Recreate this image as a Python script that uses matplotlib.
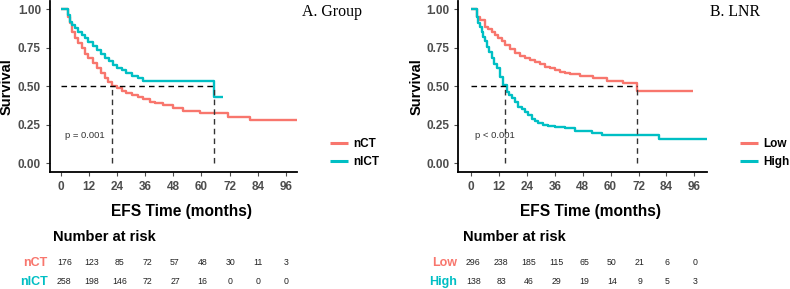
import matplotlib
matplotlib.use("Agg")
import matplotlib.pyplot as plt

plt.rcParams['font.family'] = ['Liberation Sans', 'DejaVu Sans']

RED = '#F8766D'
CYAN = '#00BFC4'

# ---- data ----
# A. Group
nct_t = [0, 3.1, 4.0, 4.7, 6.1, 7.5, 9.0, 10.4, 11.8, 13.6, 15.4, 17.2, 18.9, 20.3, 21.7,
         24, 26, 28, 30.3, 32.8, 35.2, 38.1, 40.2, 43.8, 48, 52.3, 59.4, 71.5, 80.8, 100.7]
nct_s = [1.0, 0.95, 0.907, 0.853, 0.81, 0.778, 0.745, 0.71, 0.68, 0.648, 0.616, 0.585, 0.551, 0.525, 0.501,
         0.485, 0.47, 0.455, 0.443, 0.43, 0.415, 0.40, 0.393, 0.378, 0.356, 0.341, 0.328, 0.302, 0.281, 0.281]
nict_t = [0, 3.0, 4.0, 5.0, 6.1, 7.5, 9.0, 10.4, 11.8, 13.6, 15.4, 17.2, 18.9, 20.6, 22.4,
          24.2, 26, 28, 30.3, 32.8, 35.2, 65.5, 69.1]
nict_s = [1.0, 0.96, 0.918, 0.895, 0.875, 0.853, 0.831, 0.81, 0.788, 0.76, 0.734, 0.707, 0.68, 0.66, 0.637,
          0.62, 0.605, 0.585, 0.566, 0.553, 0.535, 0.428, 0.428]
medians_a = [21.7, 65.5]

# B. LNR
low_t = [0, 2.4, 3.9, 6.0, 7.5, 8.9, 10.3, 11.7, 13.2, 14.6, 16.7, 18.9, 21, 23.2, 25.3, 27.5,
         29.6, 31.8, 34, 36.1, 38.2, 40.4, 42.6, 46.9, 52.6, 58.3, 65.5, 71.2, 95.6]
low_s = [1.0, 0.95, 0.929, 0.885, 0.87, 0.853, 0.83, 0.81, 0.79, 0.767, 0.74, 0.713, 0.695, 0.68, 0.67, 0.658,
         0.642, 0.626, 0.615, 0.605, 0.595, 0.587, 0.579, 0.566, 0.551, 0.535, 0.518, 0.469, 0.469]
high_t = [0, 2.4, 3.2, 3.9, 4.6, 5.3, 6.0, 6.7, 7.8, 8.9, 10, 11, 12.5, 13.9, 15.3, 16.4, 17.5,
          18.9, 20.3, 21.8, 23.2, 24.6, 26.1, 27.5, 29, 31, 33.2, 36.1, 40.4, 44.7, 51.9, 56.2, 81, 101.3]
high_s = [1.0, 0.95, 0.91, 0.885, 0.85, 0.82, 0.79, 0.756, 0.72, 0.68, 0.645, 0.616, 0.56, 0.507, 0.464, 0.44, 0.421,
          0.395, 0.367, 0.35, 0.334, 0.31, 0.29, 0.275, 0.259, 0.25, 0.242, 0.235, 0.227, 0.211, 0.198, 0.183, 0.157, 0.157]
medians_b = [14.6, 71.2]

risk_times = [0, 12, 24, 36, 48, 60, 72, 84, 96]
risk_nct = [176, 123, 85, 72, 57, 48, 30, 11, 3]
risk_nict = [258, 198, 146, 72, 27, 16, 0, 0, 0]
risk_low = [296, 238, 185, 115, 65, 50, 21, 6, 0]
risk_high = [138, 83, 46, 29, 19, 14, 9, 5, 3]

W, H = 790, 289
fig = plt.figure(figsize=(W / 100, H / 100), dpi=100)


def px(x0, y0, x1, y1):
    # pixel box (top-left origin) -> figure fraction rect
    return [x0 / W, 1 - y1 / H, (x1 - x0) / W, (y1 - y0) / H]


def km_panel(rect, xlim, curves, medians, ptext, labels):
    ax = fig.add_axes(rect)
    for t, s, c in curves:
        ax.plot(t, s, color=c, lw=1.7, drawstyle='steps-post', solid_capstyle='butt')
    ax.plot([0, medians[1]], [0.5, 0.5], color='black', lw=1.0, ls=(0, (4, 3)))
    for m in medians:
        ax.plot([m, m], [0, 0.5], color='#333333', lw=1.0, ls=(0, (4, 3)))
    ax.text(1.8, 0.183, ptext, fontsize=6.8, color='#333333', ha='left', va='center')
    ax.set_xlim(*xlim)
    ax.set_ylim(-0.055, 1.05)
    ax.set_xticks(risk_times)
    ax.set_yticks([0, 0.25, 0.5, 0.75, 1.0])
    ax.set_yticklabels(['0.00', '0.25', '0.50', '0.75', '1.00'])
    for sp in ['top', 'right']:
        ax.spines[sp].set_visible(False)
    for sp in ['left', 'bottom']:
        ax.spines[sp].set_linewidth(1.3)
    ax.tick_params(labelsize=8.5, colors='#4D4D4D', length=3, width=0.8)
    for lab in ax.get_xticklabels() + ax.get_yticklabels():
        lab.set_fontweight('bold')
    ax.set_ylabel('Survival', fontsize=10.5, fontweight='bold')
    leg = ax.legend(labels, loc='center left', bbox_to_anchor=(1.134, 0.11), frameon=False,
                    borderpad=0, borderaxespad=0, handlelength=1.5, handletextpad=0.45,
                    labelspacing=0.55, prop={'weight': 'bold', 'size': 8.5})
    for h in leg.legend_handles:
        h.set_linewidth(2.2)
    return ax


axA = km_panel(px(50, 1.3, 297, 171.8), (-4.6, 100.8),
               [(nct_t, nct_s, RED), (nict_t, nict_s, CYAN)], medians_a, 'p = 0.001', ['nCT', 'nICT'])
axB = km_panel(px(458.3, 1.3, 706.7, 171.8), (-5.46, 101.3),
               [(low_t, low_s, RED), (high_t, high_s, CYAN)], medians_b, 'p < 0.001', ['Low', 'High'])
axA.yaxis.set_label_coords(-0.149, 0.5)
axB.yaxis.set_label_coords(-0.141, 0.5)

fig.text(301.7 / W, 1 - 11.7 / H, 'A. Group', family='Liberation Serif', fontsize=11.4, va='center', ha='left')
fig.text(710 / W, 1 - 11.7 / H, 'B. LNR', family='Liberation Serif', fontsize=11.4, va='center', ha='left')

fig.text(181.3 / W, 1 - 211.7 / H, 'EFS Time (months)', fontsize=11.2, fontweight='bold', ha='center', va='center')
fig.text(590.8 / W, 1 - 211.7 / H, 'EFS Time (months)', fontsize=11.2, fontweight='bold', ha='center', va='center')
fig.text(53.3 / W, 1 - 236.7 / H, 'Number at risk', fontsize=10.5, fontweight='bold', ha='left', va='center')
fig.text(463.3 / W, 1 - 236.7 / H, 'Number at risk', fontsize=10.5, fontweight='bold', ha='left', va='center')


def risk_table(x0, x1, rows, names):
    ax = fig.add_axes(px(x0, 250, x1, 289))
    ax.set_xlim(0, 96)
    ax.set_ylim(-0.384, 1.668)
    ax.axis('off')
    for i, (vals, name, col) in enumerate(zip(rows, names, [RED, CYAN])):
        y = 1 - i
        for t, v in zip(risk_times, vals):
            ax.text(t, y, str(v), fontsize=6.3, color='#222222', ha='center', va='center')
        ax.text(-7.2, y, name, fontsize=9, fontweight='bold', color=col, ha='right', va='center', clip_on=False)
    return ax


risk_table(64.3, 285.7, [risk_nct, risk_nict], ['nCT', 'nICT'])
risk_table(473.3, 695, [risk_low, risk_high], ['Low', 'High'])

fig.savefig('out.png', dpi=100)
